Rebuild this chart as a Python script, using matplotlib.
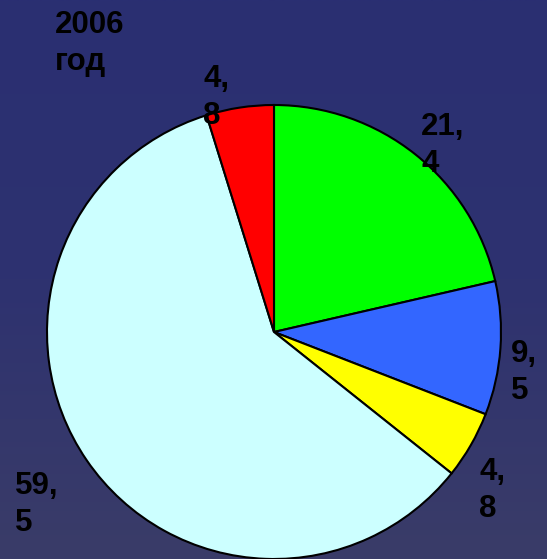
import numpy as np
import matplotlib.pyplot as plt
from matplotlib.colors import LinearSegmentedColormap

# shares, percent, clockwise from 12 o'clock
values = [21.4, 9.5, 4.8, 59.5, 4.8]
labels = ["21,\n4", "9,\n5", "4,\n8", "59,\n5", "4,\n8"]
colors = ["#00ff00", "#3366ff", "#ffff00", "#ccffff", "#ff0000"]
title = "2006\nгод"

W, H = 547, 559
fig = plt.figure(figsize=(W / 100, H / 100), dpi=100)
ax = fig.add_axes([0, 0, 1, 1])

# dark navy background, a bit greyer towards the bottom
bg = LinearSegmentedColormap.from_list("bg", ["#3a3c68", "#2e3270", "#2a2f72"])
grad = np.linspace(0, 1, 256).reshape(-1, 1)
ax.imshow(grad, cmap=bg, extent=[0, W, 0, H], origin="lower",
          aspect="auto", zorder=0)

cx, cy, r = 274, H - 332, 227
ax.pie(values, colors=colors, startangle=90, counterclock=False,
       center=(cx, cy), radius=r, frame=True,
       wedgeprops=dict(edgecolor="black", linewidth=1.5))
ax.set_xlim(0, W)
ax.set_ylim(0, H)
ax.set_aspect("equal")
ax.axis("off")

font = dict(family="Liberation Sans", weight="bold", fontsize=22.5,
            color="black", linespacing=1.3)
# label anchor points (pixel coords, top-left of text)
label_pos = [(421, 112), (511, 339), (479, 457), (15, 471), (203, 64)]
for (x, y), txt in zip(label_pos, labels):
    ax.text(x, H - y, txt, ha="left", va="top", zorder=5, **font)

ax.text(55, H - 10, title, ha="left", va="top", zorder=5, **font)

fig.savefig("out.png", dpi=100)
